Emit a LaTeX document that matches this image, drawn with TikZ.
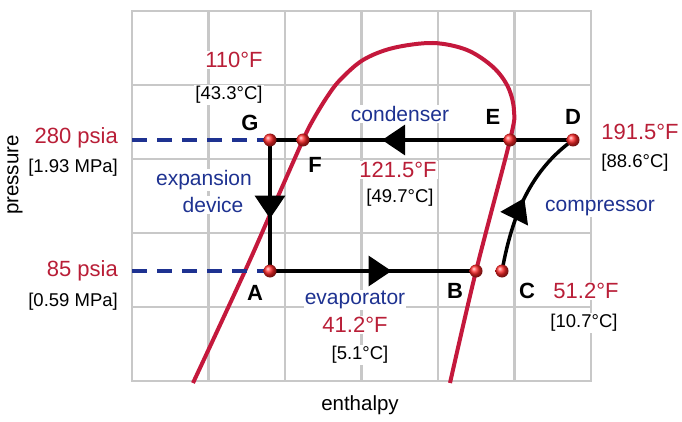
\documentclass[tikz,border=0pt]{standalone}
\usepackage{fontspec}
\setmainfont{Liberation Sans}
\usetikzlibrary{arrows.meta}
\usetikzlibrary{decorations.markings}

\definecolor{curvered}{RGB}{196,24,60}
\definecolor{labelred}{RGB}{185,30,55}
\definecolor{labelblue}{RGB}{30,50,145}
\definecolor{gridgray}{RGB}{200,200,200}

\tikzset{
  gridline/.style={draw=gridgray, line width=2.5pt, line cap=rect},
  redtxt/.style={text=labelred, fill=white, inner sep=1pt, font=\fontsize{22}{25}\selectfont},
  bractxt/.style={text=black, fill=white, inner sep=1pt, font=\fontsize{18.5}{21}\selectfont},
  bluetxt/.style={text=labelblue, fill=white, inner sep=1pt, font=\fontsize{21}{24}\selectfont},
  statelbl/.style={inner sep=1pt, font=\fontsize{22}{25}\selectfont\bfseries},
  axistxt/.style={inner sep=1pt, font=\fontsize{20.5}{24}\selectfont},
  flow/.style={draw=black, line width=3.5pt},
  midarrow/.style={postaction={decorate}, decoration={markings,
      mark=at position #1 with {\arrow{Triangle[length=23pt,width=30pt]}}}},
  pressline/.style={draw=labelblue, line width=3.5pt, dash pattern=on 15pt off 10pt},
}

\begin{document}
\begin{tikzpicture}[x=1pt,y=1pt]
  \useasboundingbox (0,0) rectangle (682,421);
  %% Grid
  \foreach \gx in {132,208.5,285,361.5,438,514.5,591}
    \draw[gridline] (\gx,40) -- (\gx,410);
  \foreach \gy in {40,114,188,262,336,410}
    \draw[gridline] (132,\gy) -- (591,\gy);

  %% Labels
  \path (234,361) node(tempTop)[redtxt] {110°F};
  \path (229,326) node(tempTopC)[bractxt] {[43.3°C]};
  \path (119,283) node(pHigh)[redtxt, anchor=east] {280 psia};
  \path (119,253) node(pHighM)[bractxt, anchor=east] {[1.93 MPa]};
  \path (119,150) node(pLow)[redtxt, anchor=east] {85 psia};
  \path (119,119) node(pLowM)[bractxt, anchor=east] {[0.59 MPa]};
  \path (204,241) node(expA)[bluetxt] {expansion};
  \path (213,216) node(expB)[bluetxt] {device};
  \path (400,307) node(cond)[bluetxt] {condenser};
  \path (398,251) node(tempCond)[redtxt] {121.5°F};
  \path (400,223) node(tempCondC)[bractxt] {[49.7°C]};
  \path (640,289) node(tempD)[redtxt] {191.5°F};
  \path (635,258) node(tempDC)[bractxt] {[88.6°C]};
  \path (600,213) node(comp)[bluetxt] {compressor};
  \path (355,121) node(evap)[bluetxt] {evaporator};
  \path (355,96) node(tempEvap)[redtxt] {41.2°F};
  \path (360,66) node(tempEvapC)[bractxt] {[5.1°C]};
  \path (586,130) node(tempC)[redtxt] {51.2°F};
  \path (584,98) node(tempCC)[bractxt] {[10.7°C]};
  \path (360,16) node(xaxis)[axistxt] {enthalpy};
  \path (15,246) node(yaxis)[axistxt, rotate=90] {pressure};

  %% Saturation dome
  \draw[curvered, line width=4pt] plot[smooth, tension=0.55] coordinates {
    (193,38) (245,150) (272,211) (303,281) (313,301) (327,324) (340,341)
    (363,361) (393,373) (433,378) (467,371) (493,354) (508,334) (514,310)
    (510,281) (476,150) (450,38)};

  %% Cycle states
  \coordinate (G) at (270,281);
  \coordinate (F) at (303,281);
  \coordinate (E) at (510,281);
  \coordinate (D) at (573,281);
  \coordinate (A) at (270,150);
  \coordinate (B) at (476,150);
  \coordinate (C) at (502,150);
  \coordinate (pHighEnd) at (132,281);
  \coordinate (pLowEnd) at (132,150);

  \draw[pressline] (pHighEnd) -- (G);
  \draw[pressline] (pLowEnd) -- (A);

  %% Connecting arrows
  \draw[flow, midarrow=0.6] (G) -- (A);
  \draw[flow, midarrow=0.59] (A) -- (B);
  \draw[flow, midarrow=0.5] (C) .. controls (512,205) and (530,250) .. (D);
  \draw[flow, midarrow=0.63] (D) -- (G);

  \foreach \s in {G,F,E,D,A,B,C}
    \shade[ball color=red!85!white] (\s) circle (6.5);

  \path (250,298) node(lblG)[statelbl] {G};
  \path (315,256) node(lblF)[statelbl] {F};
  \path (493,304) node(lblE)[statelbl] {E};
  \path (573,304) node(lblD)[statelbl] {D};
  \path (255,128) node(lblA)[statelbl] {A};
  \path (455,130) node(lblB)[statelbl] {B};
  \path (527,130) node(lblC)[statelbl] {C};
\end{tikzpicture}
\end{document}
